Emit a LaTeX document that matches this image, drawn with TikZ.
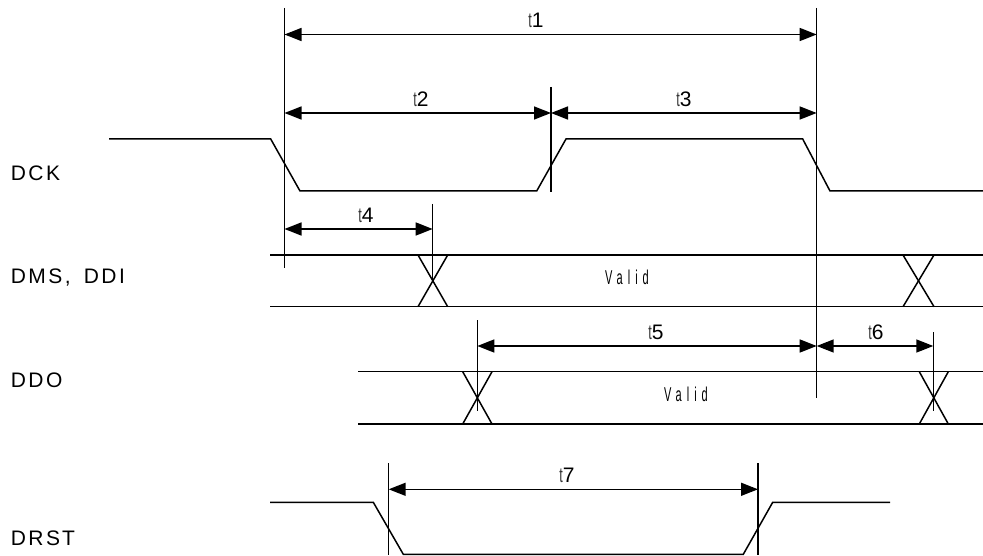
\documentclass[tikz,border=0pt]{standalone}
\usepackage{fontspec}
\setmainfont{Liberation Sans}
\newfontfamily\lblfont[LetterSpace=12]{Liberation Sans}
\newfontfamily\tfont[FakeStretch=0.6]{Liberation Sans}
\newfontfamily\valfont[FakeStretch=0.55,LetterSpace=25]{Liberation Sans}
\usetikzlibrary{arrows.meta}
\newcommand\tlab[1]{{\color{black!80}\tfont t}#1}
\begin{document}
\begin{tikzpicture}[x=1pt,y=-1pt,line width=1.5pt,line join=miter,
  dim/.style={line width=1.5pt,{Triangle[length=17pt,width=13pt]}-{Triangle[length=17pt,width=13pt]}},
  marker/.style={line width=1.5pt},
  sig/.style={line width=1.5pt},
  lbl/.style={anchor=west,inner sep=0pt,font=\fontsize{21}{25}\lblfont},
  tl/.style={inner sep=0pt,font=\fontsize{21}{25}\selectfont},
  val/.style={inner sep=0pt,font=\fontsize{20}{24}\valfont}]
\useasboundingbox (0,0) rectangle (983,556);

% signal names
\node[lbl] (nDCK) at (10,173) {DCK};
\node[lbl] (nDMS) at (10,278) {DMS,\hspace{13pt}DDI};
\node[lbl] (nDDO) at (10,380) {DDO};
\node[lbl] (nDRST) at (10,538) {DRS\hspace{2pt}T};

% DCK waveform
\draw[sig] (109,139) -- (270.7,139) -- (300,191) -- (536.7,191) -- (566,139)
  -- (802.7,139) -- (830,191) -- (983,191);

% DMS, DDI bus
\draw[sig] (270,255) -- (983,255);
\draw[sig] (270,306.7) -- (983,306.7);
\draw[sig] (418,255) -- (447.7,306.7);
\draw[sig] (418,306.7) -- (447.7,255);
\draw[sig] (903,255) -- (934,306.7);
\draw[sig] (903,306.7) -- (934,255);
\node[val] (v1) at (627,277) {Valid};

% DDO bus
\draw[sig] (358.3,371.7) -- (983,371.7);
\draw[sig] (358.3,424) -- (983,424);
\draw[sig] (462.7,371.7) -- (492,424);
\draw[sig] (462.7,424) -- (492,371.7);
\draw[sig] (919.3,371.7) -- (948.3,424);
\draw[sig] (919.3,424) -- (948.3,371.7);
\node[val] (v2) at (686,394) {Valid};

% DRST waveform
\draw[sig] (270,502.3) -- (373.3,502.3) -- (403.3,554.3) -- (743.3,554.3)
  -- (772.7,502.3) -- (890,502.3);

% vertical markers
\coordinate (mA1) at (284.5,8);   \coordinate (mA2) at (284.5,268);
\coordinate (mB1) at (816.7,8);   \coordinate (mB2) at (816.7,398);
\coordinate (mC1) at (551,87);    \coordinate (mC2) at (551,192);
\coordinate (mD1) at (432.7,204); \coordinate (mD2) at (432.7,281);
\coordinate (mE1) at (477.3,320); \coordinate (mE2) at (477.3,411);
\coordinate (mF1) at (933.3,332); \coordinate (mF2) at (933.3,411);
\coordinate (mG1) at (388.7,463); \coordinate (mG2) at (388.7,555);
\coordinate (mH1) at (758,463);   \coordinate (mH2) at (758,555);
\foreach \m in {A,B,C,D,E,F,G,H} \draw[marker] (m\m1) -- (m\m2);

% dimension arrows
\coordinate (a1L) at (284.5,34.5); \coordinate (a1R) at (816.7,34.5);
\coordinate (a2L) at (284.5,113);  \coordinate (a2R) at (551,113);
\coordinate (a3L) at (551,113);    \coordinate (a3R) at (816.7,113);
\coordinate (a4L) at (284.5,229);  \coordinate (a4R) at (432.7,229);
\coordinate (a5L) at (477.3,346);  \coordinate (a5R) at (816.7,346);
\coordinate (a6L) at (816.7,346);  \coordinate (a6R) at (933.3,346);
\coordinate (a7L) at (388.7,489.3);\coordinate (a7R) at (758,489.3);
\foreach \i in {1,...,7} \draw[dim] (a\i L) -- (a\i R);

\node[tl] (t1) at (536,20) {\tlab{1}};
\node[tl] (t2) at (421,99) {\tlab{2}};
\node[tl] (t3) at (684,99) {\tlab{3}};
\node[tl] (t4) at (366,215) {\tlab{4}};
\node[tl] (t5) at (656,332) {\tlab{5}};
\node[tl] (t6) at (876,332) {\tlab{6}};
\node[tl] (t7) at (567,475) {\tlab{7}};
\end{tikzpicture}
\end{document}
